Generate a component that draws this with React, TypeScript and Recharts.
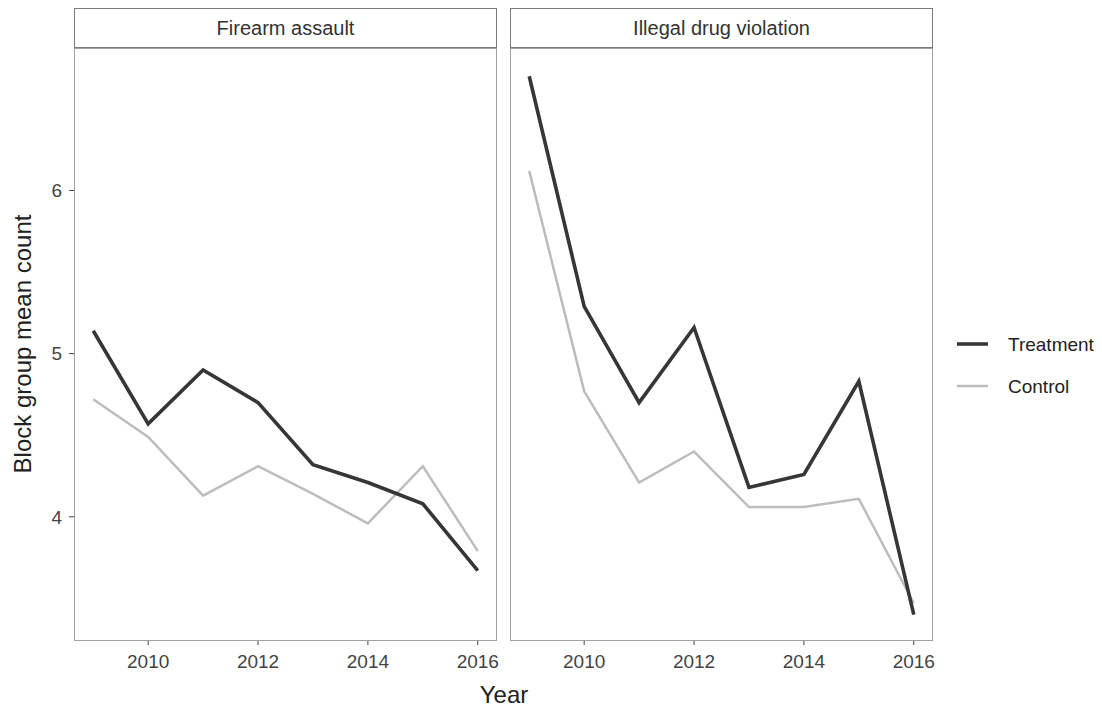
import React from "react";
import { LineChart, Line, XAxis, YAxis } from "recharts";

const years = [2009, 2010, 2011, 2012, 2013, 2014, 2015, 2016];
const firearmTreatment = [5.14, 4.57, 4.9, 4.7, 4.32, 4.21, 4.08, 3.67];
const firearmControl = [4.72, 4.49, 4.13, 4.31, 4.14, 3.96, 4.31, 3.79];
const drugTreatment = [6.7, 5.29, 4.7, 5.16, 4.18, 4.26, 4.83, 3.4];
const drugControl = [6.12, 4.77, 4.21, 4.4, 4.06, 4.06, 4.11, 3.47];
const xTicks = [2010, 2012, 2014, 2016];
const yTicks = [4, 5, 6];
const panels = ["Firearm assault", "Illegal drug violation"];

const FONT = '"Liberation Sans", Arial, sans-serif';
const TREAT = "#363636";
const CTRL = "#bdbdbd";
const X_DOMAIN = [2008.65, 2016.35];
const Y_DOMAIN = [3.245, 6.873];

const build = (t: number[], c: number[]) =>
  years.map((y, i) => ({ year: y, Treatment: t[i], Control: c[i] }));

const panelData = [build(firearmTreatment, firearmControl), build(drugTreatment, drugControl)];

const PLOT_TOP = 48;
const PLOT_H = 592;
const PANEL_W = 423;
const RIGHT_PAD = 30;
const panelLeft = [74, 510];

function Panel({ idx }: { idx: number }) {
  const showY = idx === 0;
  const yw = showY ? 74 : 0;
  const left = panelLeft[idx] - yw;
  return (
    <>
      <div
        style={{
          position: "absolute",
          left: panelLeft[idx],
          top: 8,
          width: PANEL_W - 2,
          height: 38,
          border: "1px solid #7a7a7a",
          background: "#fff",
          display: "flex",
          alignItems: "center",
          justifyContent: "center",
          fontSize: 20,
          color: "#333",
        }}
      >
        {panels[idx]}
      </div>
      <div style={{ position: "absolute", left, top: PLOT_TOP }}>
        <LineChart
          width={PANEL_W + yw + RIGHT_PAD}
          height={PLOT_H + 40}
          data={panelData[idx]}
          margin={{ top: 0, right: RIGHT_PAD, bottom: 0, left: 0 }}
        >
          <XAxis
            dataKey="year"
            type="number"
            domain={X_DOMAIN}
            ticks={xTicks}
            allowDataOverflow
            axisLine={false}
            tickSize={5}
            tickMargin={10}
            tickLine={{ stroke: "#444" }}
            height={40}
            tick={{ fill: "#444", fontSize: 19, fontFamily: FONT }}
          />
          <YAxis
            type="number"
            domain={Y_DOMAIN}
            ticks={yTicks}
            allowDataOverflow
            hide={!showY}
            width={yw}
            axisLine={false}
            tickSize={5}
            tickMargin={7}
            tickLine={{ stroke: "#444" }}
            tick={{ fill: "#444", fontSize: 19, fontFamily: FONT }}
          />
          <Line
            dataKey="Control"
            stroke={CTRL}
            strokeWidth={2.5}
            dot={false}
            isAnimationActive={false}
          />
          <Line
            dataKey="Treatment"
            stroke={TREAT}
            strokeWidth={3.6}
            dot={false}
            isAnimationActive={false}
          />
        </LineChart>
      </div>
      <div
        style={{
          position: "absolute",
          left: panelLeft[idx],
          top: PLOT_TOP,
          width: PANEL_W - 2,
          height: PLOT_H - 1,
          border: "1px solid #a0a0a0",
          pointerEvents: "none",
        }}
      />
    </>
  );
}

export default function App() {
  return (
    <div
      style={{
        position: "absolute",
        left: 0,
        top: 0,
        width: 1102,
        height: 710,
        background: "#fff",
        fontFamily: FONT,
      }}
    >
      <Panel idx={0} />
      <Panel idx={1} />
      <svg width={1102} height={710} style={{ position: "absolute", left: 0, top: 0, pointerEvents: "none" }}>
        <text
          x={0}
          y={0}
          transform="translate(31,344) rotate(-90)"
          textAnchor="middle"
          fontSize={24}
          fill="#222"
          fontFamily={FONT}
        >
          Block group mean count
        </text>
        <text x={504} y={703} textAnchor="middle" fontSize={24} fill="#222" fontFamily={FONT}>
          Year
        </text>
        <line x1={957} x2={988} y1={344} y2={344} stroke={TREAT} strokeWidth={3.6} />
        <text x={1008} y={351} fontSize={19} fill="#222" fontFamily={FONT}>
          Treatment
        </text>
        <line x1={957} x2={988} y1={386} y2={386} stroke={CTRL} strokeWidth={2.5} />
        <text x={1008} y={393} fontSize={19} fill="#222" fontFamily={FONT}>
          Control
        </text>
      </svg>
    </div>
  );
}
